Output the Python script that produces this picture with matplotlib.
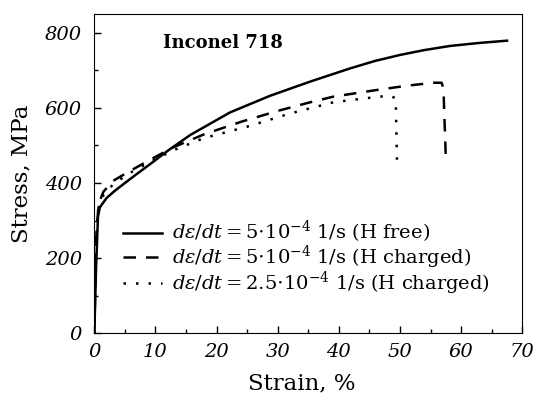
import matplotlib
matplotlib.use("Agg")
import matplotlib.pyplot as plt

plt.rcParams['font.family'] = ['DejaVu Serif']
plt.rcParams['font.style'] = 'italic'   # default for tick labels
plt.rcParams['mathtext.fontset'] = 'custom'
plt.rcParams['mathtext.rm'] = 'DejaVu Serif:style=normal'
plt.rcParams['mathtext.it'] = 'DejaVu Serif:style=italic'
plt.rcParams['mathtext.bf'] = 'DejaVu Serif:style=normal:weight=bold'
plt.rcParams['mathtext.sf'] = 'DejaVu Sans:style=normal'
plt.rcParams['mathtext.tt'] = 'DejaVu Sans Mono:style=normal'
plt.rcParams['mathtext.cal'] = 'DejaVu Serif:style=italic'

# Data (strain %, stress MPa)
strain_free = [0, 0.3, 0.6, 0.9, 2, 3.4, 5, 6.7, 9.1, 12.1, 15.7, 22.2, 28.7, 35.3, 41.8, 45.9, 50, 54, 58.2, 63, 67.5]
stress_free = [0, 180, 310, 335, 360, 380, 400, 421, 450, 487, 528, 588, 632, 670, 705, 725, 741, 754, 765, 773, 779]

strain_h5 = [0, 0.3, 0.7, 1.5, 3, 5.6, 8.8, 12.9, 18, 24, 30, 35.3, 39.1, 46.7, 51.6, 55.5, 56.8, 57.1, 57.5]
stress_h5 = [0, 250, 345, 377, 405, 430, 459, 495, 530, 563, 592, 615, 630, 649, 660, 667, 667, 652, 463]

strain_h25 = [0, 0.3, 0.7, 1.5, 3, 5.6, 9, 12.9, 18, 25, 32, 39.1, 44, 48.4, 49.3, 49.5]
stress_h25 = [0, 250, 335, 368, 395, 425, 455, 487, 520, 550, 585, 615, 625, 633, 625, 461]

x_ticks = [0, 10, 20, 30, 40, 50, 60, 70]
y_ticks = [0, 200, 400, 600, 800]

labels = [r'$d\varepsilon/dt = 5{\cdot}10^{-4}$ 1/s (H free)',
          r'$d\varepsilon/dt = 5{\cdot}10^{-4}$ 1/s (H charged)',
          r'$d\varepsilon/dt = 2.5{\cdot}10^{-4}$ 1/s (H charged)']

fig = plt.figure(figsize=(5.37, 3.96), dpi=100)
ax = fig.add_axes([94.3/537, 1 - 333.3/396, (522.3 - 94.3)/537, (333.3 - 14)/396])

ax.plot(strain_free, stress_free, color='black', lw=1.8, ls='-', label=labels[0])
ax.plot(strain_h5, stress_h5, color='black', lw=1.8, ls=(0, (5, 4)), label=labels[1])
ax.plot(strain_h25, stress_h25, color='black', lw=1.8, ls=(0, (1, 4)), label=labels[2])

ax.set_xlim(0, 70)
ax.set_ylim(0, 850)
ax.tick_params(which='both', direction='in', top=False, right=False)
ax.tick_params(which='major', length=5, width=1, labelsize=14)
ax.tick_params(which='minor', length=3, width=1)
ax.tick_params(axis='y', which='major', pad=9)
ax.tick_params(axis='x', which='major', pad=7)
ax.set_xticks(x_ticks, [str(v) for v in x_ticks])
ax.set_yticks(y_ticks, [str(v) for v in y_ticks])
ax.set_xticks([5, 15, 25, 35, 45, 55, 65], minor=True)
ax.set_yticks([100, 300, 500, 700], minor=True)

ax.set_xlabel('Strain, %', fontsize=16.5, fontstyle='normal')
ax.xaxis.set_label_coords(0.485, -0.19)
ax.xaxis.label.set_va('bottom')
ax.set_ylabel('Stress, MPa', fontsize=16.5, fontstyle='normal')
ax.yaxis.set_label_coords(-0.145, 0.5)

ax.text(11.2, 760, 'Inconel 718', fontsize=13, fontweight='bold', fontstyle='normal')

leg = ax.legend(loc='lower left', bbox_to_anchor=(0.05, 0.09), frameon=False,
                prop={'family': 'DejaVu Serif', 'style': 'normal', 'size': 14},
                handlelength=2.0, handletextpad=0.5,
                labelspacing=-0.08, borderaxespad=0)

fig.savefig('out.png', dpi=100)
